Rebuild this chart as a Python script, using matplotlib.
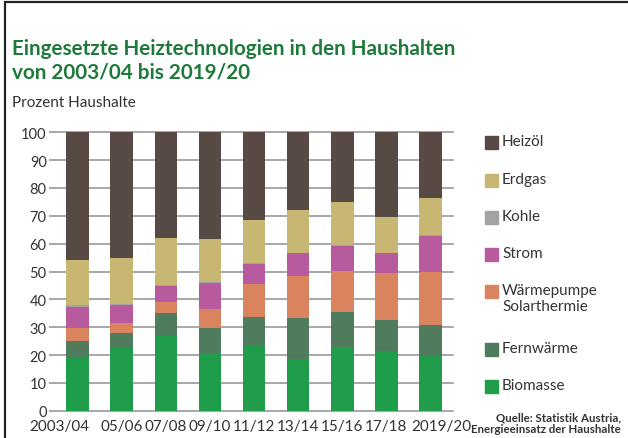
import matplotlib.pyplot as plt
import matplotlib.transforms as mtransforms
from matplotlib.patches import Rectangle
import numpy as np

plt.rcParams['font.family'] = ['Lato', 'DejaVu Sans']

# ================= DATA =================

years = ["2003/04", "05/06", "07/08", "09/10", "11/12", "13/14", "15/16", "17/18", "2019/20"]

biomasse = [18.8, 22.4, 26.9, 20.7, 23.3, 18.6, 23.0, 21.3, 19.8]
fernwaerme = [6.3, 5.6, 8.1, 9.0, 10.5, 14.6, 12.6, 11.3, 11.1]
waermepumpe = [4.5, 3.4, 4.2, 6.8, 11.7, 15.3, 14.7, 16.8, 19.0]
strom = [7.8, 6.6, 5.7, 9.4, 7.2, 8.0, 9.0, 7.1, 13.0]
kohle = [0.4, 0.3, 0.3, 0.2, 0.2, 0.1, 0.1, 0.1, 0.1]
erdgas = [16.3, 16.4, 16.8, 15.6, 15.6, 15.6, 15.5, 12.9, 13.4]
heizoel = [45.9, 45.3, 38.0, 38.3, 31.5, 27.8, 25.1, 30.5, 23.6]

# stacking order bottom -> top
series = [
    ("Biomasse", biomasse, "#1f9d4a"),
    ("Fernwärme", fernwaerme, "#4e7c5c"),
    ("Wärmepumpe\nSolarthermie", waermepumpe, "#d9845f"),
    ("Strom", strom, "#b75a9e"),
    ("Kohle", kohle, "#a3a3a3"),
    ("Erdgas", erdgas, "#c8b773"),
    ("Heizöl", heizoel, "#574a45"),
]

# ================= PLOT =================

fig = plt.figure(figsize=(6.28, 4.39), dpi=100)
W, H = 628, 439

# outer frame (runs off the right / bottom edge)
fig.patches.append(Rectangle((5 / W, -0.1), 1.2, 1 - 3 / H + 0.1, transform=fig.transFigure,
                             fill=False, edgecolor="#222222", linewidth=1.6))

ax = fig.add_axes([55 / W, (H - 411.7) / H, (453 - 55) / W, (411.7 - 133.3) / H])

x = np.arange(len(years))
bottom = np.zeros(len(years))
for name, vals, color in series:
    ax.bar(x, vals, width=0.52, bottom=bottom, color=color, zorder=3)
    bottom += np.array(vals)

ax.set_ylim(0, 100)
ax.set_xlim(-0.52, len(years) - 0.48)
ax.set_yticks(range(0, 101, 10))
for yv in range(0, 101, 10):
    ax.axhline(yv, color="#9a9a9a", linewidth=1.2, zorder=1, clip_on=False)
for s in ax.spines.values():
    s.set_visible(False)

ax.tick_params(axis="y", length=4, width=1.2, color="#9a9a9a", labelsize=10.5,
               labelcolor="#333333", pad=2)
ax.tick_params(axis="x", length=0, labelsize=11, labelcolor="#333333", pad=6)
ax.set_xticks(x)
ax.set_xticklabels(years)

# first and last labels hang outwards from the bar edge
lbls = ax.get_xticklabels()
lbls[0].set_ha("right")
lbls[0].set_transform(lbls[0].get_transform() + mtransforms.ScaledTranslation(12 / 100, 0, fig.dpi_scale_trans))
lbls[-1].set_ha("left")
lbls[-1].set_transform(lbls[-1].get_transform() + mtransforms.ScaledTranslation(-19 / 100, 0, fig.dpi_scale_trans))

# titles
fig.text(12 / W, 1 - 61 / H, "Eingesetzte Heiztechnologien in den Haushalten\nvon 2003/04 bis 2019/20",
         color="#1d7a3b", fontsize=14.9, fontweight="bold", va="center", ha="left", linespacing=1.2)
fig.text(12 / W, 1 - 103 / H, "Prozent Haushalte", color="#333333", fontsize=11, va="center")

# legend (drawn by hand so the square sits on the first line)
leg_y = {"Heizöl": 143, "Erdgas": 181, "Kohle": 218, "Strom": 255,
         "Wärmepumpe\nSolarthermie": 292, "Fernwärme": 350, "Biomasse": 387}
for name, vals, color in series:
    yc = leg_y[name]
    fig.patches.append(Rectangle((485 / W, 1 - (yc + 6.5) / H), 13 / W, 13 / H,
                                 transform=fig.transFigure, color=color))
    fig.text(502 / W, 1 - (yc - 8) / H, name, fontsize=11, color="#333333",
             va="top", ha="left", linespacing=1.15)

# source
fig.text(621 / W, 1 - 424 / H, "Quelle: Statistik Austria,\nEnergieeinsatz der Haushalte",
         fontsize=8.3, color="#333333", ha="right", va="center", fontweight="bold",
         linespacing=1.1)

fig.savefig("out.png", dpi=100)
